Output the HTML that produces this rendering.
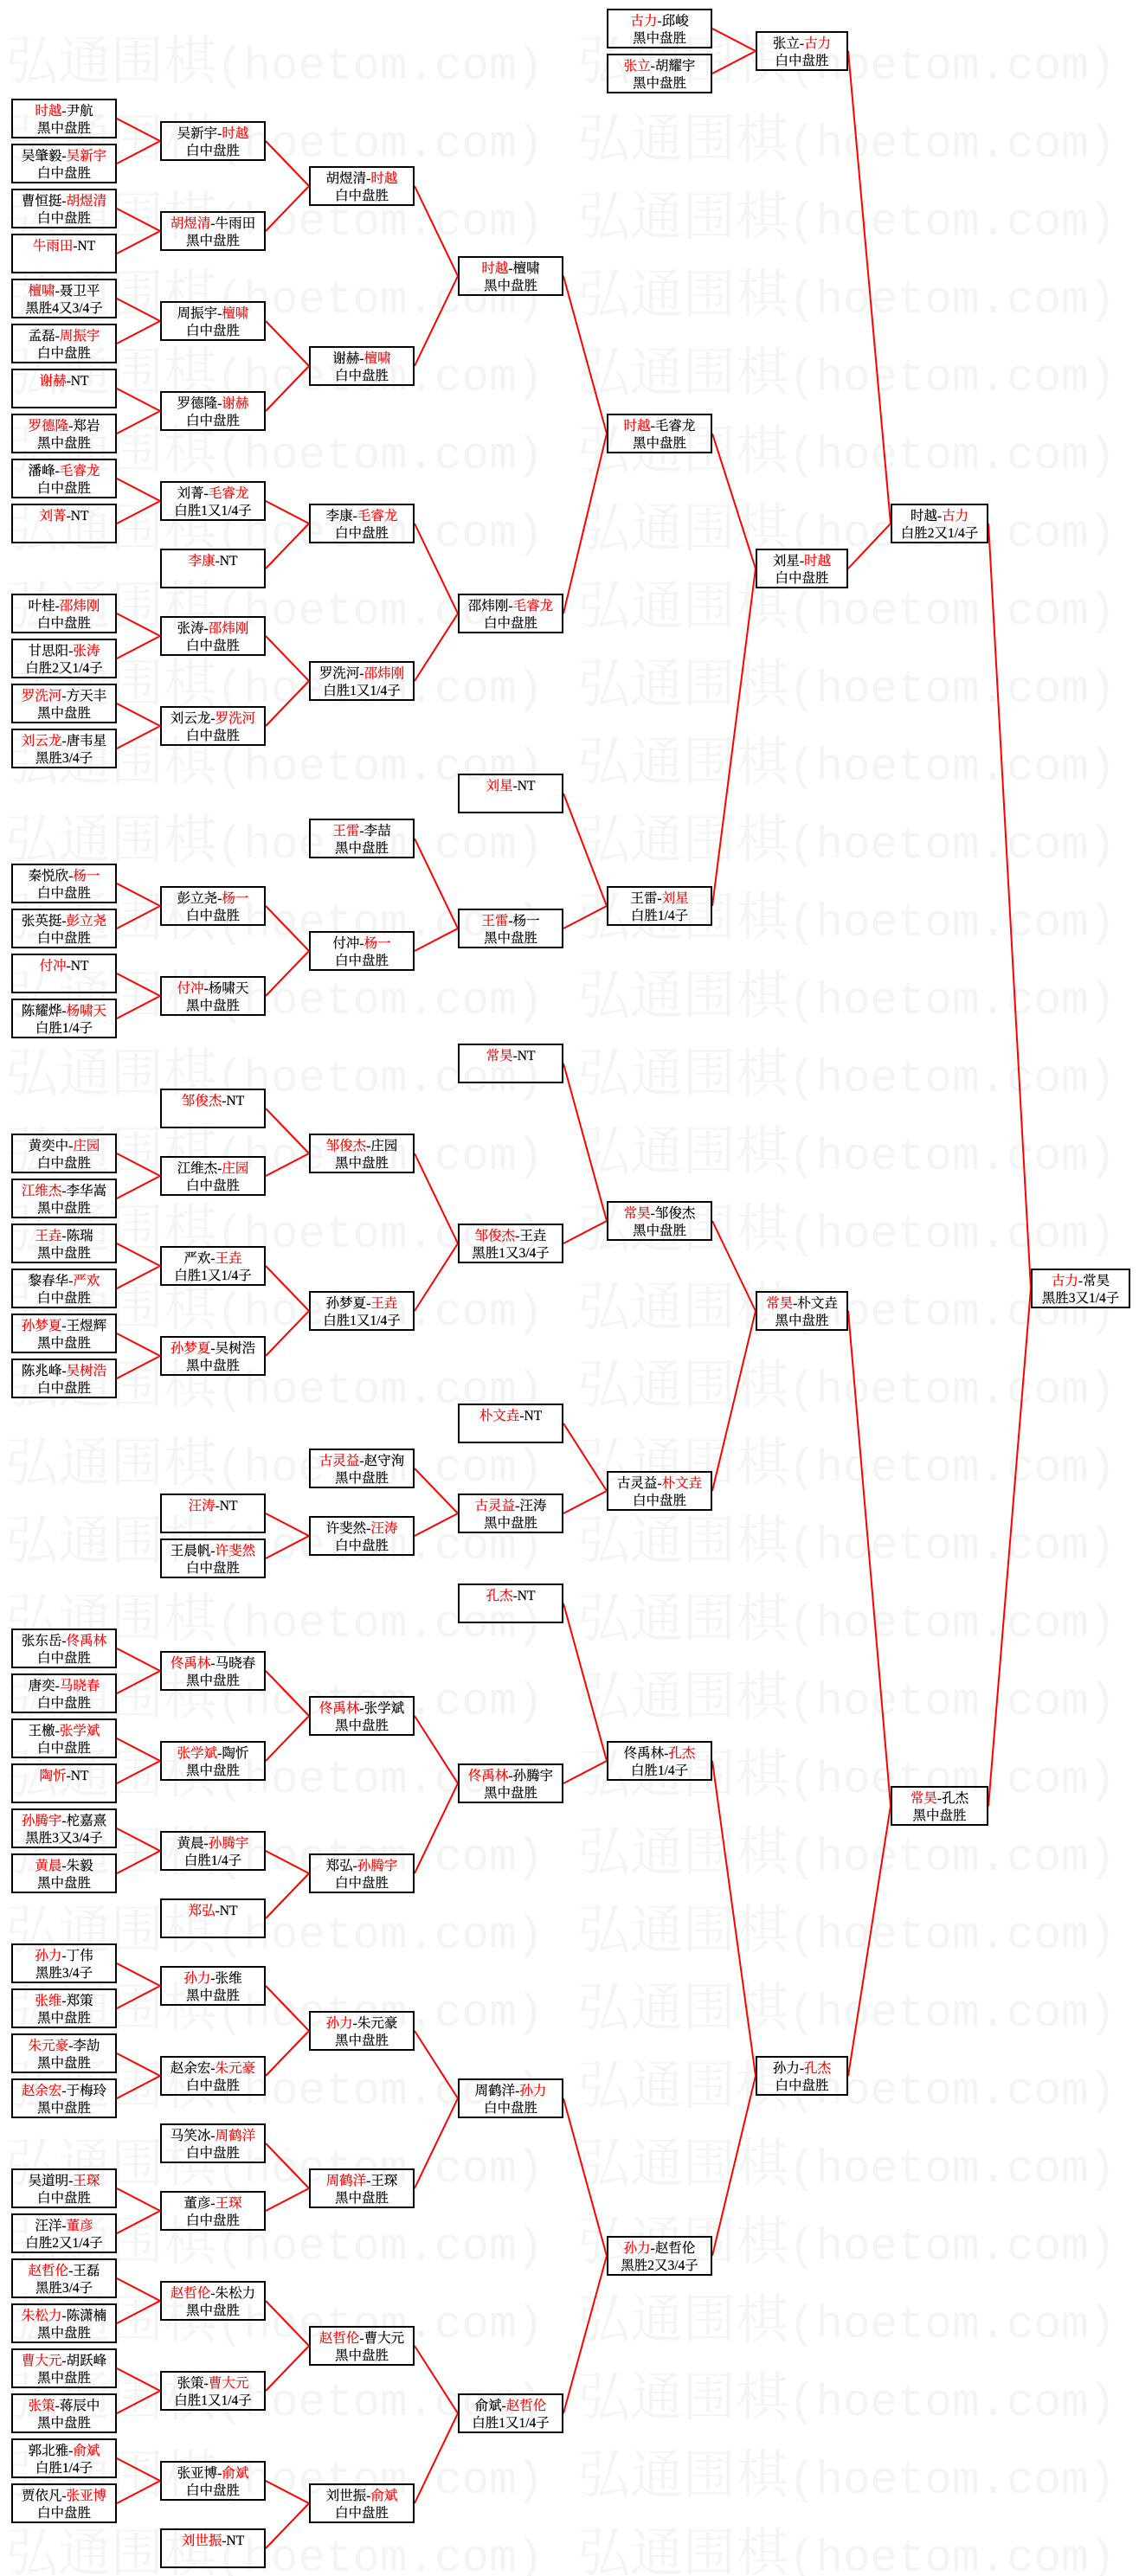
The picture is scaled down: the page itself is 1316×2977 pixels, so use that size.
<!DOCTYPE html>
<html><head><meta charset="utf-8">
<style>
html,body{margin:0;padding:0;background:#fff;}
#pg{position:relative;width:1316px;height:2977px;overflow:hidden;background:#fff;}
svg{position:absolute;left:0;top:0;}
.w text{font-family:"Noto Serif CJK SC","Liberation Serif",serif;font-size:61px;fill:#f4f4f4;}
.w .a{font-family:"Liberation Mono",monospace;font-size:52.5px;}
.b{position:absolute;width:122px;height:46px;box-sizing:border-box;border:2px solid #000;text-align:center;font-size:15.5px;line-height:20px;padding-top:3px;color:#000;white-space:nowrap;font-family:"Liberation Serif","Noto Serif CJK SC",serif;-webkit-text-stroke:0.2px currentColor;}
.b i{font-style:normal;color:#f00;}
.c1{left:13px}.c2{left:185px}.c3{left:357px}.c4{left:529px}.c5{left:701px}
.c6{left:873px;width:107px}.c7{left:1029px;width:113px}.c8{left:1191px;width:115px}
</style></head><body><div id="pg">
<svg class="w" width="1316" height="2977">
<text x="6" y="91">弘通围棋<tspan class="a">(hoetom.com)</tspan></text><text x="667" y="91">弘通围棋<tspan class="a">(hoetom.com)</tspan></text>
<text x="6" y="181">弘通围棋<tspan class="a">(hoetom.com)</tspan></text><text x="667" y="181">弘通围棋<tspan class="a">(hoetom.com)</tspan></text>
<text x="6" y="271">弘通围棋<tspan class="a">(hoetom.com)</tspan></text><text x="667" y="271">弘通围棋<tspan class="a">(hoetom.com)</tspan></text>
<text x="6" y="361">弘通围棋<tspan class="a">(hoetom.com)</tspan></text><text x="667" y="361">弘通围棋<tspan class="a">(hoetom.com)</tspan></text>
<text x="6" y="451">弘通围棋<tspan class="a">(hoetom.com)</tspan></text><text x="667" y="451">弘通围棋<tspan class="a">(hoetom.com)</tspan></text>
<text x="6" y="541">弘通围棋<tspan class="a">(hoetom.com)</tspan></text><text x="667" y="541">弘通围棋<tspan class="a">(hoetom.com)</tspan></text>
<text x="6" y="631">弘通围棋<tspan class="a">(hoetom.com)</tspan></text><text x="667" y="631">弘通围棋<tspan class="a">(hoetom.com)</tspan></text>
<text x="6" y="721">弘通围棋<tspan class="a">(hoetom.com)</tspan></text><text x="667" y="721">弘通围棋<tspan class="a">(hoetom.com)</tspan></text>
<text x="6" y="811">弘通围棋<tspan class="a">(hoetom.com)</tspan></text><text x="667" y="811">弘通围棋<tspan class="a">(hoetom.com)</tspan></text>
<text x="6" y="901">弘通围棋<tspan class="a">(hoetom.com)</tspan></text><text x="667" y="901">弘通围棋<tspan class="a">(hoetom.com)</tspan></text>
<text x="6" y="991">弘通围棋<tspan class="a">(hoetom.com)</tspan></text><text x="667" y="991">弘通围棋<tspan class="a">(hoetom.com)</tspan></text>
<text x="6" y="1081">弘通围棋<tspan class="a">(hoetom.com)</tspan></text><text x="667" y="1081">弘通围棋<tspan class="a">(hoetom.com)</tspan></text>
<text x="6" y="1171">弘通围棋<tspan class="a">(hoetom.com)</tspan></text><text x="667" y="1171">弘通围棋<tspan class="a">(hoetom.com)</tspan></text>
<text x="6" y="1261">弘通围棋<tspan class="a">(hoetom.com)</tspan></text><text x="667" y="1261">弘通围棋<tspan class="a">(hoetom.com)</tspan></text>
<text x="6" y="1351">弘通围棋<tspan class="a">(hoetom.com)</tspan></text><text x="667" y="1351">弘通围棋<tspan class="a">(hoetom.com)</tspan></text>
<text x="6" y="1441">弘通围棋<tspan class="a">(hoetom.com)</tspan></text><text x="667" y="1441">弘通围棋<tspan class="a">(hoetom.com)</tspan></text>
<text x="6" y="1531">弘通围棋<tspan class="a">(hoetom.com)</tspan></text><text x="667" y="1531">弘通围棋<tspan class="a">(hoetom.com)</tspan></text>
<text x="6" y="1621">弘通围棋<tspan class="a">(hoetom.com)</tspan></text><text x="667" y="1621">弘通围棋<tspan class="a">(hoetom.com)</tspan></text>
<text x="6" y="1711">弘通围棋<tspan class="a">(hoetom.com)</tspan></text><text x="667" y="1711">弘通围棋<tspan class="a">(hoetom.com)</tspan></text>
<text x="6" y="1801">弘通围棋<tspan class="a">(hoetom.com)</tspan></text><text x="667" y="1801">弘通围棋<tspan class="a">(hoetom.com)</tspan></text>
<text x="6" y="1891">弘通围棋<tspan class="a">(hoetom.com)</tspan></text><text x="667" y="1891">弘通围棋<tspan class="a">(hoetom.com)</tspan></text>
<text x="6" y="1981">弘通围棋<tspan class="a">(hoetom.com)</tspan></text><text x="667" y="1981">弘通围棋<tspan class="a">(hoetom.com)</tspan></text>
<text x="6" y="2071">弘通围棋<tspan class="a">(hoetom.com)</tspan></text><text x="667" y="2071">弘通围棋<tspan class="a">(hoetom.com)</tspan></text>
<text x="6" y="2161">弘通围棋<tspan class="a">(hoetom.com)</tspan></text><text x="667" y="2161">弘通围棋<tspan class="a">(hoetom.com)</tspan></text>
<text x="6" y="2251">弘通围棋<tspan class="a">(hoetom.com)</tspan></text><text x="667" y="2251">弘通围棋<tspan class="a">(hoetom.com)</tspan></text>
<text x="6" y="2341">弘通围棋<tspan class="a">(hoetom.com)</tspan></text><text x="667" y="2341">弘通围棋<tspan class="a">(hoetom.com)</tspan></text>
<text x="6" y="2431">弘通围棋<tspan class="a">(hoetom.com)</tspan></text><text x="667" y="2431">弘通围棋<tspan class="a">(hoetom.com)</tspan></text>
<text x="6" y="2521">弘通围棋<tspan class="a">(hoetom.com)</tspan></text><text x="667" y="2521">弘通围棋<tspan class="a">(hoetom.com)</tspan></text>
<text x="6" y="2611">弘通围棋<tspan class="a">(hoetom.com)</tspan></text><text x="667" y="2611">弘通围棋<tspan class="a">(hoetom.com)</tspan></text>
<text x="6" y="2701">弘通围棋<tspan class="a">(hoetom.com)</tspan></text><text x="667" y="2701">弘通围棋<tspan class="a">(hoetom.com)</tspan></text>
<text x="6" y="2791">弘通围棋<tspan class="a">(hoetom.com)</tspan></text><text x="667" y="2791">弘通围棋<tspan class="a">(hoetom.com)</tspan></text>
<text x="6" y="2881">弘通围棋<tspan class="a">(hoetom.com)</tspan></text><text x="667" y="2881">弘通围棋<tspan class="a">(hoetom.com)</tspan></text>
<text x="6" y="2971">弘通围棋<tspan class="a">(hoetom.com)</tspan></text><text x="667" y="2971">弘通围棋<tspan class="a">(hoetom.com)</tspan></text>
</svg>
<svg width="1316" height="2977"><path fill="none" stroke="#f00" stroke-width="2" d="
M135 137L185 163M135 189L185 163
M135 241L185 267M135 293L185 267
M135 345L185 371M135 397L185 371
M135 449L185 475M135 501L185 475
M135 553L185 579M135 605L185 579
M135 709L185 735M135 761L185 735
M135 813L185 839M135 865L185 839
M135 1021L185 1047M135 1073L185 1047
M135 1125L185 1151M135 1177L185 1151
M135 1333L185 1359M135 1385L185 1359
M135 1437L185 1463M135 1489L185 1463
M135 1541L185 1567M135 1593L185 1567
M135 1905L185 1931M135 1957L185 1931
M135 2009L185 2035M135 2061L185 2035
M135 2113L185 2139M135 2165L185 2139
M135 2269L185 2295M135 2321L185 2295
M135 2373L185 2399M135 2425L185 2399
M135 2529L185 2555M135 2581L185 2555
M135 2633L185 2659M135 2685L185 2659
M135 2737L185 2763M135 2789L185 2763
M135 2841L185 2867M135 2893L185 2867
M307 163L357 215M307 267L357 215
M307 371L357 423M307 475L357 423
M307 579L357 605M307 657L357 605
M307 735L357 787M307 839L357 787
M307 1047L357 1099M307 1151L357 1099
M307 1281L357 1333M307 1359L357 1333
M307 1463L357 1515M307 1567L357 1515
M307 1749L357 1775M307 1801L357 1775
M307 1931L357 1983M307 2035L357 1983
M307 2139L357 2165M307 2217L357 2165
M307 2295L357 2347M307 2399L357 2347
M307 2477L357 2529M307 2555L357 2529
M307 2659L357 2711M307 2763L357 2711
M307 2867L357 2893M307 2945L357 2893
M479 215L529 319M479 423L529 319
M479 605L529 709M479 787L529 709
M479 969L529 1073M479 1099L529 1073
M479 1333L529 1437M479 1515L529 1437
M479 1697L529 1749M479 1775L529 1749
M479 1983L529 2061M479 2165L529 2061
M479 2347L529 2425M479 2529L529 2425
M479 2711L529 2789M479 2893L529 2789
M651 319L701 501M651 709L701 501
M651 917L701 1047M651 1073L701 1047
M651 1229L701 1411M651 1437L701 1411
M651 1645L701 1723M651 1749L701 1723
M651 1853L701 2035M651 2061L701 2035
M651 2425L701 2607M651 2789L701 2607
M823 33L873 59M823 85L873 59
M823 501L873 657M823 1047L873 657
M823 1411L873 1515M823 1723L873 1515
M823 2035L873 2399M823 2607L873 2399
M980 59L1029 605M980 657L1029 605
M980 1515L1029 2087M980 2399L1029 2087
M1142 605L1191 1489M1142 2087L1191 1489"/></svg>

<div class="b c1" style="top:114px"><i>时越</i>-尹航<br>黑中盘胜</div>
<div class="b c1" style="top:166px">吴肇毅-<i>吴新宇</i><br>白中盘胜</div>
<div class="b c1" style="top:218px">曹恒挺-<i>胡煜清</i><br>白中盘胜</div>
<div class="b c1" style="top:270px"><i>牛雨田</i>-NT</div>
<div class="b c1" style="top:322px"><i>檀啸</i>-聂卫平<br>黑胜4又3/4子</div>
<div class="b c1" style="top:374px">孟磊-<i>周振宇</i><br>白中盘胜</div>
<div class="b c1" style="top:426px"><i>谢赫</i>-NT</div>
<div class="b c1" style="top:478px"><i>罗德隆</i>-郑岩<br>黑中盘胜</div>
<div class="b c1" style="top:530px">潘峰-<i>毛睿龙</i><br>白中盘胜</div>
<div class="b c1" style="top:582px"><i>刘菁</i>-NT</div>
<div class="b c1" style="top:686px">叶桂-<i>邵炜刚</i><br>白中盘胜</div>
<div class="b c1" style="top:738px">甘思阳-<i>张涛</i><br>白胜2又1/4子</div>
<div class="b c1" style="top:790px"><i>罗洗河</i>-方天丰<br>黑中盘胜</div>
<div class="b c1" style="top:842px"><i>刘云龙</i>-唐韦星<br>黑胜3/4子</div>
<div class="b c1" style="top:998px">秦悦欣-<i>杨一</i><br>白中盘胜</div>
<div class="b c1" style="top:1050px">张英挺-<i>彭立尧</i><br>白中盘胜</div>
<div class="b c1" style="top:1102px"><i>付冲</i>-NT</div>
<div class="b c1" style="top:1154px">陈耀烨-<i>杨啸天</i><br>白胜1/4子</div>
<div class="b c1" style="top:1310px">黄奕中-<i>庄园</i><br>白中盘胜</div>
<div class="b c1" style="top:1362px"><i>江维杰</i>-李华嵩<br>黑中盘胜</div>
<div class="b c1" style="top:1414px"><i>王垚</i>-陈瑞<br>黑中盘胜</div>
<div class="b c1" style="top:1466px">黎春华-<i>严欢</i><br>白中盘胜</div>
<div class="b c1" style="top:1518px"><i>孙梦夏</i>-王煜辉<br>黑中盘胜</div>
<div class="b c1" style="top:1570px">陈兆峰-<i>吴树浩</i><br>白中盘胜</div>
<div class="b c1" style="top:1882px">张东岳-<i>佟禹林</i><br>白中盘胜</div>
<div class="b c1" style="top:1934px">唐奕-<i>马晓春</i><br>白中盘胜</div>
<div class="b c1" style="top:1986px">王檄-<i>张学斌</i><br>白中盘胜</div>
<div class="b c1" style="top:2038px"><i>陶忻</i>-NT</div>
<div class="b c1" style="top:2090px"><i>孙腾宇</i>-柁嘉熹<br>黑胜3又3/4子</div>
<div class="b c1" style="top:2142px"><i>黄晨</i>-朱毅<br>黑中盘胜</div>
<div class="b c1" style="top:2246px"><i>孙力</i>-丁伟<br>黑胜3/4子</div>
<div class="b c1" style="top:2298px"><i>张维</i>-郑策<br>黑中盘胜</div>
<div class="b c1" style="top:2350px"><i>朱元豪</i>-李劼<br>黑中盘胜</div>
<div class="b c1" style="top:2402px"><i>赵余宏</i>-于梅玲<br>黑中盘胜</div>
<div class="b c1" style="top:2506px">吴道明-<i>王琛</i><br>白中盘胜</div>
<div class="b c1" style="top:2558px">汪洋-<i>董彦</i><br>白胜2又1/4子</div>
<div class="b c1" style="top:2610px"><i>赵哲伦</i>-王磊<br>黑胜3/4子</div>
<div class="b c1" style="top:2662px"><i>朱松力</i>-陈潇楠<br>黑中盘胜</div>
<div class="b c1" style="top:2714px"><i>曹大元</i>-胡跃峰<br>黑中盘胜</div>
<div class="b c1" style="top:2766px"><i>张策</i>-蒋辰中<br>黑中盘胜</div>
<div class="b c1" style="top:2818px">郭北雅-<i>俞斌</i><br>白胜1/4子</div>
<div class="b c1" style="top:2870px">贾依凡-<i>张亚博</i><br>白中盘胜</div>

<div class="b c2" style="top:140px">吴新宇-<i>时越</i><br>白中盘胜</div>
<div class="b c2" style="top:244px"><i>胡煜清</i>-牛雨田<br>黑中盘胜</div>
<div class="b c2" style="top:348px">周振宇-<i>檀啸</i><br>白中盘胜</div>
<div class="b c2" style="top:452px">罗德隆-<i>谢赫</i><br>白中盘胜</div>
<div class="b c2" style="top:556px">刘菁-<i>毛睿龙</i><br>白胜1又1/4子</div>
<div class="b c2" style="top:634px"><i>李康</i>-NT</div>
<div class="b c2" style="top:712px">张涛-<i>邵炜刚</i><br>白中盘胜</div>
<div class="b c2" style="top:816px">刘云龙-<i>罗洗河</i><br>白中盘胜</div>
<div class="b c2" style="top:1024px">彭立尧-<i>杨一</i><br>白中盘胜</div>
<div class="b c2" style="top:1128px"><i>付冲</i>-杨啸天<br>黑中盘胜</div>
<div class="b c2" style="top:1258px"><i>邹俊杰</i>-NT</div>
<div class="b c2" style="top:1336px">江维杰-<i>庄园</i><br>白中盘胜</div>
<div class="b c2" style="top:1440px">严欢-<i>王垚</i><br>白胜1又1/4子</div>
<div class="b c2" style="top:1544px"><i>孙梦夏</i>-吴树浩<br>黑中盘胜</div>
<div class="b c2" style="top:1726px"><i>汪涛</i>-NT</div>
<div class="b c2" style="top:1778px">王晨帆-<i>许斐然</i><br>白中盘胜</div>
<div class="b c2" style="top:1908px"><i>佟禹林</i>-马晓春<br>黑中盘胜</div>
<div class="b c2" style="top:2012px"><i>张学斌</i>-陶忻<br>黑中盘胜</div>
<div class="b c2" style="top:2116px">黄晨-<i>孙腾宇</i><br>白胜1/4子</div>
<div class="b c2" style="top:2194px"><i>郑弘</i>-NT</div>
<div class="b c2" style="top:2272px"><i>孙力</i>-张维<br>黑中盘胜</div>
<div class="b c2" style="top:2376px">赵余宏-<i>朱元豪</i><br>白中盘胜</div>
<div class="b c2" style="top:2454px">马笑冰-<i>周鹤洋</i><br>白中盘胜</div>
<div class="b c2" style="top:2532px">董彦-<i>王琛</i><br>白中盘胜</div>
<div class="b c2" style="top:2636px"><i>赵哲伦</i>-朱松力<br>黑中盘胜</div>
<div class="b c2" style="top:2740px">张策-<i>曹大元</i><br>白胜1又1/4子</div>
<div class="b c2" style="top:2844px">张亚博-<i>俞斌</i><br>白中盘胜</div>
<div class="b c2" style="top:2922px"><i>刘世振</i>-NT</div>

<div class="b c3" style="top:192px">胡煜清-<i>时越</i><br>白中盘胜</div>
<div class="b c3" style="top:400px">谢赫-<i>檀啸</i><br>白中盘胜</div>
<div class="b c3" style="top:582px">李康-<i>毛睿龙</i><br>白中盘胜</div>
<div class="b c3" style="top:764px">罗洗河-<i>邵炜刚</i><br>白胜1又1/4子</div>
<div class="b c3" style="top:946px"><i>王雷</i>-李喆<br>黑中盘胜</div>
<div class="b c3" style="top:1076px">付冲-<i>杨一</i><br>白中盘胜</div>
<div class="b c3" style="top:1310px"><i>邹俊杰</i>-庄园<br>黑中盘胜</div>
<div class="b c3" style="top:1492px">孙梦夏-<i>王垚</i><br>白胜1又1/4子</div>
<div class="b c3" style="top:1674px"><i>古灵益</i>-赵守洵<br>黑中盘胜</div>
<div class="b c3" style="top:1752px">许斐然-<i>汪涛</i><br>白中盘胜</div>
<div class="b c3" style="top:1960px"><i>佟禹林</i>-张学斌<br>黑中盘胜</div>
<div class="b c3" style="top:2142px">郑弘-<i>孙腾宇</i><br>白中盘胜</div>
<div class="b c3" style="top:2324px"><i>孙力</i>-朱元豪<br>黑中盘胜</div>
<div class="b c3" style="top:2506px"><i>周鹤洋</i>-王琛<br>黑中盘胜</div>
<div class="b c3" style="top:2688px"><i>赵哲伦</i>-曹大元<br>黑中盘胜</div>
<div class="b c3" style="top:2870px">刘世振-<i>俞斌</i><br>白中盘胜</div>

<div class="b c4" style="top:296px"><i>时越</i>-檀啸<br>黑中盘胜</div>
<div class="b c4" style="top:686px">邵炜刚-<i>毛睿龙</i><br>白中盘胜</div>
<div class="b c4" style="top:894px"><i>刘星</i>-NT</div>
<div class="b c4" style="top:1050px"><i>王雷</i>-杨一<br>黑中盘胜</div>
<div class="b c4" style="top:1206px"><i>常昊</i>-NT</div>
<div class="b c4" style="top:1414px"><i>邹俊杰</i>-王垚<br>黑胜1又3/4子</div>
<div class="b c4" style="top:1622px"><i>朴文垚</i>-NT</div>
<div class="b c4" style="top:1726px"><i>古灵益</i>-汪涛<br>黑中盘胜</div>
<div class="b c4" style="top:1830px"><i>孔杰</i>-NT</div>
<div class="b c4" style="top:2038px"><i>佟禹林</i>-孙腾宇<br>黑中盘胜</div>
<div class="b c4" style="top:2402px">周鹤洋-<i>孙力</i><br>白中盘胜</div>
<div class="b c4" style="top:2766px">俞斌-<i>赵哲伦</i><br>白胜1又1/4子</div>

<div class="b c5" style="top:10px"><i>古力</i>-邱峻<br>黑中盘胜</div>
<div class="b c5" style="top:62px"><i>张立</i>-胡耀宇<br>黑中盘胜</div>
<div class="b c5" style="top:478px"><i>时越</i>-毛睿龙<br>黑中盘胜</div>
<div class="b c5" style="top:1024px">王雷-<i>刘星</i><br>白胜1/4子</div>
<div class="b c5" style="top:1388px"><i>常昊</i>-邹俊杰<br>黑中盘胜</div>
<div class="b c5" style="top:1700px">古灵益-<i>朴文垚</i><br>白中盘胜</div>
<div class="b c5" style="top:2012px">佟禹林-<i>孔杰</i><br>白胜1/4子</div>
<div class="b c5" style="top:2584px"><i>孙力</i>-赵哲伦<br>黑胜2又3/4子</div>

<div class="b c6" style="top:36px">张立-<i>古力</i><br>白中盘胜</div>
<div class="b c6" style="top:634px">刘星-<i>时越</i><br>白中盘胜</div>
<div class="b c6" style="top:1492px"><i>常昊</i>-朴文垚<br>黑中盘胜</div>
<div class="b c6" style="top:2376px">孙力-<i>孔杰</i><br>白中盘胜</div>

<div class="b c7" style="top:582px">时越-<i>古力</i><br>白胜2又1/4子</div>
<div class="b c7" style="top:2064px"><i>常昊</i>-孔杰<br>黑中盘胜</div>

<div class="b c8" style="top:1466px"><i>古力</i>-常昊<br>黑胜3又1/4子</div>
</div></body></html>
